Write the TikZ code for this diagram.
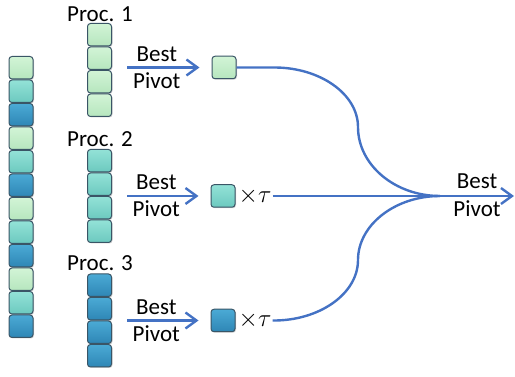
\documentclass[tikz,border=0pt]{standalone}
\usepackage{fontspec}
\setmainfont{Carlito}
\usetikzlibrary{arrows.meta,shadows}
\definecolor{lightTop}{HTML}{D2F4D6}
\definecolor{lightBot}{HTML}{B6E6BE}
\definecolor{tealTop}{HTML}{93E2D7}
\definecolor{tealBot}{HTML}{6CC9BF}
\definecolor{darkTop}{HTML}{4BAAD5}
\definecolor{darkBot}{HTML}{2E86B5}
\definecolor{cellEdge}{HTML}{3A5566}
\definecolor{flow}{HTML}{4472C4}
\tikzset{
  cell/.style={rounded corners=3pt, draw=cellEdge, line width=1pt,
    minimum width=24pt, minimum height=22.5pt, inner sep=0pt,
    drop shadow={shadow xshift=1pt, shadow yshift=-1pt, opacity=0.35}},
  cL/.style={cell, top color=lightTop, bottom color=lightBot},
  cT/.style={cell, top color=tealTop, bottom color=tealBot},
  cD/.style={cell, top color=darkTop, bottom color=darkBot},
  txt/.style={font=\fontsize{23}{26}\selectfont, inner sep=0pt},
  arr/.style={draw=flow, line width=2.4pt, -{Straight Barb[length=11pt,width=16pt]}},
  link/.style={draw=flow, line width=2.4pt},
}
\begin{document}
\begin{tikzpicture}[x=1pt,y=-1pt]
\useasboundingbox (0,0) rectangle (515,377);

% mixed column of all elements
\foreach \s [count=\i] in {cL,cT,cD,cL,cT,cD,cL,cT,cD,cL,cT,cD}
  \node[\s] (l\i) at (21, {56+11.75+23.5*(\i-1)}) {};

% per-processor columns
\foreach \k in {1,...,4} {
  \node[cL] (pa\k) at (99.5, {23+11.75+23.5*(\k-1)}) {};
  \node[cT] (pb\k) at (99.5, {149+11.75+23.5*(\k-1)}) {};
  \node[cD] (pc\k) at (99.5, {273.5+11.75+23.5*(\k-1)}) {};
}
\node[txt] (proc1) at (100,14) {Proc. 1};
\node[txt] (proc2) at (100,139) {Proc. 2};
\node[txt] (proc3) at (100,263) {Proc. 3};

% local best pivots
\node[cL] (sq1) at (224,67.5) {};
\node[cT] (sq2) at (223,196) {};
\node[cD] (sq3) at (223,320.5) {};
\node[txt, anchor=west, inner xsep=3pt] (tau2) at (sq2.east) {$\times\tau$};
\node[txt, anchor=west, inner xsep=3pt] (tau3) at (sq3.east) {$\times\tau$};

% arrows from columns to local pivots
\foreach \p/\s in {pa/sq1, pb/sq2, pc/sq3} {
  \draw[arr, shorten <=15pt, shorten >=12pt] (\s.west -| \p1.east) coordinate (\s s) -- (\s.west) coordinate (\s e);
  \path (\s s) -- (\s e)
    node[txt, pos=0.45, anchor=base, yshift=6pt] {Best}
    node[txt, pos=0.45, anchor=base, yshift=-21pt] {Pivot};
}

% merge into the global pivot
\coordinate (merge) at (440,196);
\coordinate (out) at (514,196);
\coordinate (bendA) at (358,127);
\coordinate (bendB) at (358,260);
\draw[link] (sq1.east) -- ([xshift=38pt]sq1.east) .. controls (320,67.5) and (358,94) .. (bendA)
  .. controls (358,165) and (395,196) .. (merge);
\draw[link] ([xshift=-2pt]tau3.east) .. controls (319,321) and (358,294) .. (bendB)
  .. controls (358,225) and (395,196) .. (merge);
\draw[arr] ([xshift=-2pt]tau2.east) -- (out);
\path (merge) -- (out)
  node[txt, pos=0.5, anchor=base, yshift=7pt] {Best}
  node[txt, pos=0.5, anchor=base, yshift=-21pt] {Pivot};
\end{tikzpicture}
\end{document}
